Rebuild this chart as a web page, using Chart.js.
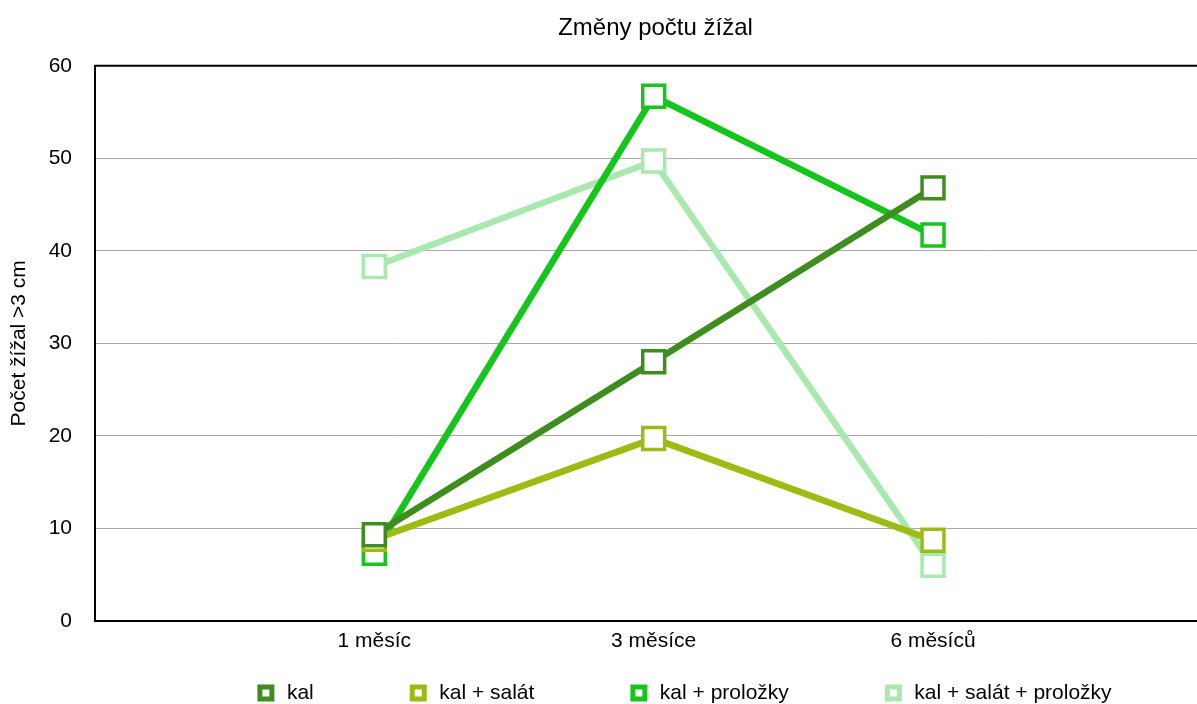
<!DOCTYPE html>
<html>
<head>
<meta charset="utf-8">
<script src="https://cdn.jsdelivr.net/npm/chart.js@4"></script>
<style>
  body { margin: 0; background: #fff; overflow: hidden; }
  #wrap { width: 1304px; height: 704px; }
</style>
</head>
<body>
<div id="wrap"><canvas id="earthworm_Chart"></canvas></div>
<script>
// values
const categories = ['1 měsíc', '3 měsíce', '6 měsíců']
const series_names = ['kal', 'kal + salát', 'kal + proložky', 'kal + salát + proložky']
const kal = [9.3, 28.0, 46.8]
const kal_salat = [8.8, 19.7, 8.7]
const kal_prolozky = [7.3, 56.7, 41.7]
const kal_salat_prolozky = [38.3, 49.7, 6.0]
const y_ticks = [0, 10, 20, 30, 40, 50, 60]

const colors = ['#3f8c1f', '#9cbb14', '#16c51c', '#a9e8ae']
const all_series = [kal, kal_salat, kal_prolozky, kal_salat_prolozky]

const to_points = arr => arr.map((v, i) => ({x: i + 1, y: v}))

const datasets = all_series.map((arr, i) => ({
    label: series_names[i],
    data: to_points(arr),
    borderColor: colors[i],
    backgroundColor: '#ffffff',
    borderWidth: 6.5,
    pointStyle: 'rect',
    pointRadius: 15.5,
    pointBorderWidth: 3.5,
    pointBackgroundColor: '#ffffff',
    pointBorderColor: colors[i],
    tension: 0
}))

// top side of the frame round the plot area
const frame_plugin = {
    id: 'frame',
    afterDraw(chart) {
        const a = chart.chartArea
        const c = chart.ctx
        c.save()
        c.strokeStyle = '#000'
        c.lineWidth = 2
        c.beginPath()
        c.moveTo(a.left, a.top)
        c.lineTo(a.right, a.top)
        c.stroke()
        c.restore()
    }
}

// the legend uses big padding for the gaps between items,
// so move its box so the row lands at the bottom and a bit to the right
const legend_place = {
    id: 'legendPlace',
    afterLayout(chart) {
        const lg = chart.legend
        const pad = lg.options.labels.padding
        lg.top = 693 - 10.5 - pad
        lg.left += 28
        lg.right += 28
    }
}

const ctx = document.getElementById('earthworm_Chart').getContext('2d')
const chart = new Chart(ctx, {
    type: 'line',
    data: { datasets: datasets },
    plugins: [frame_plugin, legend_place],
    options: {
        responsive: true,
        maintainAspectRatio: false,
        animation: false,
        layout: { padding: { left: 7, right: 0, top: 0, bottom: 0 } },
        plugins: {
            title: {
                display: true,
                text: 'Změny počtu žížal',
                color: '#000',
                font: { family: 'Liberation Sans', size: 24, weight: 'normal' },
                padding: { top: 14, bottom: 23 }
            },
            legend: {
                position: 'bottom',
                maxHeight: 42,
                labels: {
                    color: '#000',
                    font: { family: 'Liberation Sans', size: 21 },
                    usePointStyle: true,
                    boxWidth: 21,
                    boxHeight: 12,
                    padding: 94,
                    generateLabels: chart =>
                        Chart.defaults.plugins.legend.labels.generateLabels(chart)
                            .map(item => ({...item, lineWidth: 5}))
                }
            },
            tooltip: { enabled: false }
        },
        scales: {
            x: {
                type: 'linear',
                min: 0,
                max: 4.26,
                afterBuildTicks: axis => { axis.ticks = [1, 2, 3].map(v => ({value: v})) },
                ticks: {
                    color: '#000',
                    font: { family: 'Liberation Sans', size: 21 },
                    padding: 8,
                    maxRotation: 0,
                    callback: v => categories[v - 1] || ''
                },
                grid: { display: false, drawTicks: false },
                border: { color: '#000', width: 2 }
            },
            y: {
                min: 0,
                max: 60,
                afterBuildTicks: axis => { axis.ticks = y_ticks.map(v => ({value: v})) },
                afterFit: axis => { axis.width = 88 },
                ticks: {
                    color: '#000',
                    font: { family: 'Liberation Sans', size: 21 },
                    padding: 23
                },
                title: {
                    display: true,
                    text: 'Počet žížal >3 cm',
                    color: '#000',
                    font: { family: 'Liberation Sans', size: 21 },
                    padding: 0
                },
                grid: { color: '#a8a8a8', lineWidth: 1, drawTicks: false },
                border: { color: '#000', width: 2 }
            }
        }
    }
})
</script>
</body>
</html>
